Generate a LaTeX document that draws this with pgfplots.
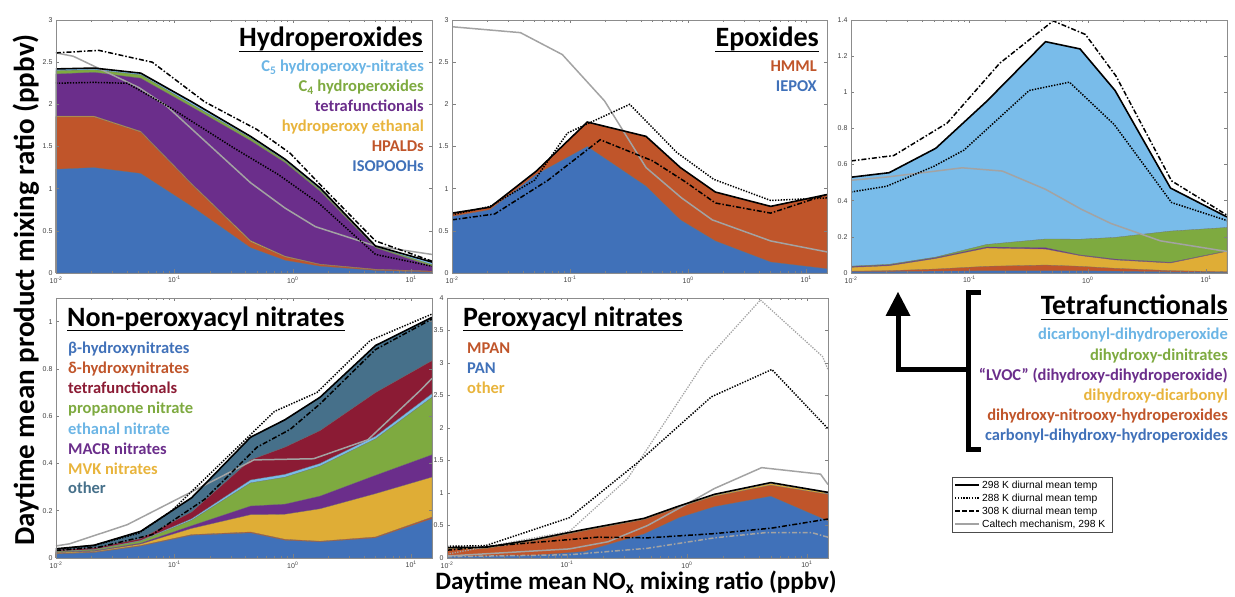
\documentclass[border=0pt]{standalone}
\usepackage{fontspec}
\setmainfont{Carlito}
\newfontfamily\helv{Liberation Sans}
\usepackage{pgfplots}
\pgfplotsset{compat=1.18}
\definecolor{cBlue}{HTML}{4071B9}
\definecolor{cOrange}{HTML}{C0552A}
\definecolor{cYellow}{HTML}{DFAD36}
\definecolor{cPurple}{HTML}{6B2E8B}
\definecolor{cGreen}{HTML}{7EAA40}
\definecolor{cLBlue}{HTML}{79BCEA}
\definecolor{cRed}{HTML}{8B1B34}
\definecolor{cSlate}{HTML}{46708A}
\definecolor{cGray}{HTML}{A3A3A3}
\definecolor{tYellow}{HTML}{E8B43C}
\definecolor{tLBlue}{HTML}{6CB5E5}
\pgfplotsset{
  every axis/.append style={
    scale only axis, anchor=south west,
    xmin=0.01, xmax=15, ymin=0,
    xtick={0.01,0.1,1,10},
    xticklabels={10\textsuperscript{-2},10\textsuperscript{-1},10\textsuperscript{0},10\textsuperscript{1}},
    minor xtick={0.02,0.03,0.04,0.05,0.06,0.07,0.08,0.09,0.2,0.3,0.4,0.5,0.6,0.7,0.8,0.9,2,3,4,5,6,7,8,9},
    axis line style={black!45, line width=0.6pt},
    major tick length=3.5pt, minor tick length=2pt,
    tick align=inside,
    tick label style={font=\helv\fontsize{7}{8}\selectfont, text=black!75},
    yticklabel style={/pgf/number format/assume math mode=true},
    axis on top,
  },
  every tick/.append style={black!50, line width=0.5pt},
}
\tikzset{
  stk/.style={fill=#1, draw=black!55, line width=0.3pt},
  kA/.style={black, line width=1.6pt},
  kB/.style={black, line width=1.5pt, dash pattern=on 1.4pt off 1.4pt},
  kC/.style={black, line width=1.5pt, dash pattern=on 5pt off 2pt on 1.5pt off 2pt},
  calt/.style={cGray, line width=1.5pt},
}
\newcommand{\ttl}[1]{\fontsize{28}{32}\selectfont\bfseries #1}
\newcommand{\lgd}[1]{\fontsize{16.5}{19}\selectfont\bfseries #1}
\begin{document}
\begin{tikzpicture}
\path[use as bounding box] (0pt,0pt) rectangle (1235pt,597pt);

% ---------------- Panel 1: Hydroperoxides
\begin{semilogxaxis}[at={(56pt,324pt)}, width=376pt, height=253pt, ymax=3, ytick={0,0.5,1,1.5,2,2.5,3}]
\addplot[stk=cLBlue] coordinates {(0.01,2.42) (0.021,2.43) (0.052,2.37) (0.14,2.03) (0.44,1.62) (0.86,1.35) (1.7,1.01) (5,0.32) (15,0.13)} \closedcycle;
\addplot[stk=cGreen] coordinates {(0.01,2.40) (0.021,2.41) (0.052,2.35) (0.14,2.00) (0.44,1.60) (0.86,1.33) (1.7,0.99) (5,0.31) (15,0.10)} \closedcycle;
\addplot[stk=cPurple] coordinates {(0.01,2.36) (0.021,2.38) (0.052,2.31) (0.14,1.97) (0.44,1.57) (0.86,1.31) (1.7,0.97) (5,0.30) (15,0.08)} \closedcycle;
\addplot[stk=cYellow] coordinates {(0.01,1.86) (0.021,1.86) (0.052,1.68) (0.14,1.06) (0.44,0.385) (0.86,0.20) (1.7,0.105) (5,0.045) (15,0.022)} \closedcycle;
\addplot[stk=cOrange] coordinates {(0.01,1.85) (0.021,1.85) (0.052,1.67) (0.14,1.05) (0.44,0.37) (0.86,0.19) (1.7,0.10) (5,0.04) (15,0.02)} \closedcycle;
\addplot[stk=cBlue] coordinates {(0.01,1.23) (0.021,1.25) (0.052,1.18) (0.14,0.79) (0.44,0.30) (0.86,0.15) (1.7,0.08) (5,0.03) (15,0.01)} \closedcycle;
\addplot[calt] coordinates {(0.01,2.61) (0.014,2.57) (0.05,2.20) (0.086,1.98) (0.44,1.07) (0.86,0.77) (1.55,0.55) (5,0.32) (15,0.22)};
\addplot[kB] coordinates {(0.01,2.25) (0.021,2.26) (0.04,2.25) (0.095,1.95) (0.32,1.48) (0.75,1.17) (1.65,0.83) (5,0.22) (15,0.08)};
\addplot[kC] coordinates {(0.01,2.61) (0.023,2.64) (0.065,2.50) (0.18,2.03) (0.5,1.70) (0.95,1.42) (1.7,1.05) (5,0.38) (15,0.14)};
\addplot[kA] coordinates {(0.01,2.42) (0.021,2.43) (0.052,2.37) (0.14,2.03) (0.44,1.62) (0.86,1.35) (1.7,1.01) (5,0.32) (15,0.13)};
\end{semilogxaxis}

% ---------------- Panel 2: Epoxides
\begin{semilogxaxis}[at={(452pt,324pt)}, width=375pt, height=253pt, ymax=3, ytick={0,0.5,1,1.5,2,2.5,3}]
\addplot[stk=cOrange] coordinates {(0.01,0.71) (0.021,0.78) (0.052,1.21) (0.14,1.79) (0.44,1.62) (0.86,1.25) (1.7,0.96) (5,0.79) (15,0.93)} \closedcycle;
\addplot[stk=cBlue] coordinates {(0.01,0.67) (0.021,0.75) (0.052,1.17) (0.14,1.50) (0.44,1.03) (0.86,0.63) (1.7,0.38) (5,0.13) (15,0.05)} \closedcycle;
\addplot[calt] coordinates {(0.01,2.92) (0.038,2.85) (0.086,2.59) (0.196,2.04) (0.44,1.25) (0.88,0.89) (1.6,0.63) (5,0.38) (15,0.25)};
\addplot[kB] coordinates {(0.01,0.69) (0.021,0.79) (0.05,1.10) (0.095,1.66) (0.32,2.0) (0.8,1.43) (1.65,1.11) (5,0.86) (15,0.89)};
\addplot[kC] coordinates {(0.01,0.63) (0.023,0.70) (0.065,1.10) (0.18,1.58) (0.5,1.33) (0.95,1.08) (1.7,0.83) (5,0.71) (15,0.93)};
\addplot[kA] coordinates {(0.01,0.71) (0.021,0.78) (0.052,1.21) (0.14,1.79) (0.44,1.62) (0.86,1.25) (1.7,0.96) (5,0.79) (15,0.93)};
\end{semilogxaxis}

% ---------------- Panel 3: Tetrafunctionals
\begin{semilogxaxis}[at={(851pt,324pt)}, width=376pt, height=253pt, ymax=1.4, ytick={0,0.2,0.4,0.6,0.8,1,1.2,1.4}]
\addplot[stk=cLBlue] coordinates {(0.01,0.53) (0.021,0.555) (0.052,0.69) (0.14,0.95) (0.44,1.28) (0.86,1.24) (1.7,1.01) (5,0.47) (15,0.31)} \closedcycle;
\addplot[stk=cGreen] coordinates {(0.01,0.038) (0.021,0.048) (0.052,0.088) (0.14,0.158) (0.44,0.188) (0.86,0.187) (1.7,0.197) (5,0.232) (15,0.252)} \closedcycle;
\addplot[stk=cPurple] coordinates {(0.01,0.036) (0.021,0.045) (0.052,0.085) (0.14,0.144) (0.44,0.140) (0.86,0.100) (1.7,0.077) (5,0.059) (15,0.122)} \closedcycle;
\addplot[stk=cYellow] coordinates {(0.01,0.031) (0.021,0.040) (0.052,0.080) (0.14,0.138) (0.44,0.132) (0.86,0.096) (1.7,0.072) (5,0.055) (15,0.120)} \closedcycle;
\addplot[stk=cOrange] coordinates {(0.01,0.010) (0.021,0.013) (0.052,0.022) (0.14,0.037) (0.44,0.044) (0.86,0.037) (1.7,0.026) (5,0.013) (15,0.007)} \closedcycle;
\addplot[stk=cBlue] coordinates {(0.01,0.008) (0.021,0.008) (0.052,0.010) (0.14,0.012) (0.44,0.012) (0.86,0.012) (1.7,0.010) (5,0.006) (15,0.004)} \closedcycle;
\addplot[calt] coordinates {(0.01,0.513) (0.02,0.531) (0.052,0.564) (0.087,0.582) (0.19,0.564) (0.44,0.463) (0.88,0.353) (1.57,0.274) (4.1,0.178) (15,0.119)};
\addplot[kB] coordinates {(0.01,0.448) (0.02,0.48) (0.05,0.59) (0.09,0.68) (0.32,1.01) (0.70,1.056) (1.68,0.82) (5.1,0.39) (15,0.29)};
\addplot[kC] coordinates {(0.01,0.62) (0.023,0.65) (0.065,0.83) (0.18,1.16) (0.51,1.395) (0.955,1.32) (1.73,1.09) (5.1,0.51) (15,0.32)};
\addplot[kA] coordinates {(0.01,0.53) (0.021,0.555) (0.052,0.69) (0.14,0.95) (0.44,1.28) (0.86,1.24) (1.7,1.01) (5,0.47) (15,0.31)};
\end{semilogxaxis}

% ---------------- Panel 4: Non-peroxyacyl nitrates
\begin{semilogxaxis}[at={(56pt,39pt)}, width=376pt, height=260pt, ymax=1.1, ytick={0,0.2,0.4,0.6,0.8,1}]
\addplot[stk=cSlate] coordinates {(0.01,0.039) (0.021,0.054) (0.052,0.113) (0.14,0.255) (0.44,0.511) (0.86,0.585) (1.7,0.680) (5,0.899) (15,1.018)} \closedcycle;
\addplot[stk=cRed] coordinates {(0.01,0.034) (0.021,0.042) (0.052,0.082) (0.14,0.195) (0.44,0.415) (0.86,0.469) (1.7,0.539) (5,0.700) (15,0.835)} \closedcycle;
\addplot[stk=cLBlue] coordinates {(0.01,0.029) (0.021,0.036) (0.052,0.074) (0.14,0.166) (0.44,0.330) (0.86,0.354) (1.7,0.400) (5,0.515) (15,0.695)} \closedcycle;
\addplot[stk=cGreen] coordinates {(0.01,0.028) (0.021,0.035) (0.052,0.072) (0.14,0.160) (0.44,0.318) (0.86,0.342) (1.7,0.389) (5,0.504) (15,0.680)} \closedcycle;
\addplot[stk=cPurple] coordinates {(0.01,0.025) (0.021,0.031) (0.052,0.063) (0.14,0.137) (0.44,0.220) (0.86,0.228) (1.7,0.262) (5,0.350) (15,0.437)} \closedcycle;
\addplot[stk=cYellow] coordinates {(0.01,0.023) (0.021,0.028) (0.052,0.059) (0.14,0.125) (0.44,0.183) (0.86,0.185) (1.7,0.208) (5,0.272) (15,0.342)} \closedcycle;
\addplot[stk=cOrange] coordinates {(0.01,0.019) (0.021,0.025) (0.052,0.053) (0.14,0.099) (0.44,0.110) (0.86,0.079) (1.7,0.071) (5,0.089) (15,0.173)} \closedcycle;
\addplot[stk=cBlue] coordinates {(0.01,0.017) (0.021,0.023) (0.052,0.050) (0.14,0.096) (0.44,0.106) (0.86,0.075) (1.7,0.068) (5,0.085) (15,0.166)} \closedcycle;
\addplot[calt] coordinates {(0.01,0.051) (0.013,0.06) (0.04,0.141) (0.47,0.415) (1.5,0.42) (4.3,0.50) (12,0.71) (15,0.76)};
\addplot[kB] coordinates {(0.01,0.037) (0.021,0.053) (0.05,0.105) (0.095,0.20) (0.32,0.455) (0.7,0.62) (1.6,0.70) (4.5,0.92) (15,1.032)};
\addplot[kC] coordinates {(0.01,0.032) (0.023,0.046) (0.065,0.099) (0.18,0.248) (0.5,0.469) (0.95,0.544) (1.7,0.652) (5,0.882) (15,1.011)};
\addplot[kA] coordinates {(0.01,0.039) (0.021,0.054) (0.052,0.113) (0.14,0.255) (0.44,0.511) (0.86,0.585) (1.7,0.680) (5,0.899) (15,1.018)};
\end{semilogxaxis}

% ---------------- Panel 5: Peroxyacyl nitrates
\begin{semilogxaxis}[at={(447pt,39pt)}, width=381pt, height=260pt, ymax=4, ytick={0,0.5,1,1.5,2,2.5,3,3.5,4}]
\addplot[stk=cYellow] coordinates {(0.01,0.15) (0.021,0.155) (0.052,0.27) (0.14,0.43) (0.44,0.60) (0.86,0.79) (1.7,0.965) (5,1.145) (15,1.0)} \closedcycle;
\addplot[stk=cOrange] coordinates {(0.01,0.14) (0.021,0.145) (0.052,0.26) (0.14,0.42) (0.44,0.59) (0.86,0.78) (1.7,0.95) (5,1.12) (15,0.98)} \closedcycle;
\addplot[stk=cBlue] coordinates {(0.01,0.03) (0.021,0.03) (0.052,0.04) (0.14,0.10) (0.44,0.37) (0.86,0.62) (1.7,0.79) (5,0.95) (15,0.57)} \closedcycle;
\addplot[cGray, line width=1.3pt, dash pattern=on 1.3pt off 1.3pt] coordinates {(0.01,0.06) (0.105,0.41) (0.32,1.22) (1.42,3.03) (4.1,3.97) (13.5,3.1) (15,2.9)};
\addplot[cGray, line width=1.5pt, dash pattern=on 5pt off 2pt on 1.5pt off 2pt] coordinates {(0.01,0.02) (0.105,0.05) (0.47,0.15) (1.7,0.31) (4.5,0.39) (11,0.39) (15,0.32)};
\addplot[calt] coordinates {(0.01,0.03) (0.105,0.14) (0.22,0.25) (0.47,0.50) (1.02,0.84) (1.7,1.07) (4.2,1.39) (13,1.29) (15,1.13)};
\addplot[kB] coordinates {(0.01,0.18) (0.021,0.19) (0.105,0.62) (0.39,1.47) (1.6,2.48) (5.1,2.9) (15,1.99)};
\addplot[kC] coordinates {(0.01,0.12) (0.03,0.2) (0.18,0.32) (0.47,0.31) (1.7,0.375) (5.1,0.46) (15,0.6)};
\addplot[kA] coordinates {(0.01,0.16) (0.021,0.165) (0.052,0.28) (0.14,0.44) (0.44,0.61) (0.86,0.80) (1.7,0.98) (5,1.16) (15,1.01)};
\end{semilogxaxis}

% ---------------- Titles and labels
\node[anchor=base east, inner sep=0] (t1) at (423pt,550pt) {\ttl{Hydroperoxides}};
\draw[line width=1.8pt] ([yshift=-4.5pt]t1.base west) -- ([yshift=-4.5pt]t1.base east);
\node[anchor=base east, inner sep=0, text=tLBlue] at (424pt,525pt) {\lgd{C\textsubscript{5} hydroperoxy-nitrates}};
\node[anchor=base east, inner sep=0, text=cGreen] at (424pt,505pt) {\lgd{C\textsubscript{4} hydroperoxides}};
\node[anchor=base east, inner sep=0, text=cPurple] at (424pt,485pt) {\lgd{tetrafunctionals}};
\node[anchor=base east, inner sep=0, text=tYellow] at (424pt,465pt) {\lgd{hydroperoxy ethanal}};
\node[anchor=base east, inner sep=0, text=cOrange] at (424pt,445pt) {\lgd{HPALDs}};
\node[anchor=base east, inner sep=0, text=cBlue] at (424pt,425pt) {\lgd{ISOPOOHs}};

\node[anchor=base east, inner sep=0] (t2) at (819pt,550pt) {\ttl{Epoxides}};
\draw[line width=1.8pt] ([yshift=-4.5pt]t2.base west) -- ([yshift=-4.5pt]t2.base east);
\node[anchor=base east, inner sep=0, text=cOrange] at (817pt,525pt) {\lgd{HMML}};
\node[anchor=base east, inner sep=0, text=cBlue] at (817pt,505pt) {\lgd{IEPOX}};

\node[anchor=base west, inner sep=0] (t4) at (67pt,270pt) {\ttl{Non-peroxyacyl nitrates}};
\draw[line width=1.8pt] ([yshift=-3.5pt]t4.base west) -- ([yshift=-3.5pt]t4.base east);
\node[anchor=base west, inner sep=0, text=cBlue] at (68pt,243pt) {\lgd{β-hydroxynitrates}};
\node[anchor=base west, inner sep=0, text=cOrange] at (68pt,223pt) {\lgd{δ-hydroxynitrates}};
\node[anchor=base west, inner sep=0, text=cRed] at (68pt,203pt) {\lgd{tetrafunctionals}};
\node[anchor=base west, inner sep=0, text=cGreen] at (68pt,183pt) {\lgd{propanone nitrate}};
\node[anchor=base west, inner sep=0, text=tLBlue] at (68pt,162pt) {\lgd{ethanal nitrate}};
\node[anchor=base west, inner sep=0, text=cPurple] at (68pt,142pt) {\lgd{MACR nitrates}};
\node[anchor=base west, inner sep=0, text=tYellow] at (68pt,122pt) {\lgd{MVK nitrates}};
\node[anchor=base west, inner sep=0, text=cSlate] at (68pt,103pt) {\lgd{other}};

\node[anchor=base west, inner sep=0] (t5) at (463pt,270pt) {\ttl{Peroxyacyl nitrates}};
\draw[line width=1.8pt] ([yshift=-3.5pt]t5.base west) -- ([yshift=-3.5pt]t5.base east);
\node[anchor=base west, inner sep=0, text=cOrange] at (467pt,243pt) {\lgd{MPAN}};
\node[anchor=base west, inner sep=0, text=cBlue] at (467pt,223pt) {\lgd{PAN}};
\node[anchor=base west, inner sep=0, text=tYellow] at (467pt,203pt) {\lgd{other}};

\node[anchor=base east, inner sep=0] (t6) at (1228pt,282pt) {\ttl{Tetrafunctionals}};
\draw[line width=1.8pt] ([yshift=-4.5pt]t6.base west) -- ([yshift=-4.5pt]t6.base east);
\node[anchor=base east, inner sep=0, text=tLBlue] at (1228pt,257pt) {\lgd{dicarbonyl-dihydroperoxide}};
\node[anchor=base east, inner sep=0, text=cGreen] at (1228pt,236pt) {\lgd{dihydroxy-dinitrates}};
\node[anchor=base east, inner sep=0, text=cPurple] at (1228pt,216pt) {\lgd{“LVOC” (dihydroxy-dihydroperoxide)}};
\node[anchor=base east, inner sep=0, text=tYellow] at (1228pt,196pt) {\lgd{dihydroxy-dicarbonyl}};
\node[anchor=base east, inner sep=0, text=cOrange] at (1228pt,176pt) {\lgd{dihydroxy-nitrooxy-hydroperoxides}};
\node[anchor=base east, inner sep=0, text=cBlue] at (1228pt,156pt) {\lgd{carbonyl-dihydroxy-hydroperoxides}};

% bracket and arrow
\draw[line width=5pt, line cap=butt, line join=miter] (981pt,304pt) -- (968.5pt,304pt) -- (968.5pt,147pt) -- (981pt,147pt);
\draw[line width=5pt, line join=miter] (968.5pt,227pt) -- (898pt,227pt) -- (898pt,282pt);
\fill (885.5pt,281pt) -- (910.5pt,281pt) -- (898pt,305pt) -- cycle;

% legend box
\draw[black!70, line width=0.6pt, fill=white] (952pt,120pt) rectangle (1112pt,65pt);
\draw[black, line width=1.6pt] (955pt,112pt) -- (979pt,112pt);
\draw[black, line width=1.5pt, dash pattern=on 1.4pt off 1.4pt] (955pt,99pt) -- (979pt,99pt);
\draw[black, line width=1.5pt, dash pattern=on 5pt off 2pt] (955pt,86pt) -- (979pt,86pt);
\draw[cGray, line width=1.5pt] (955pt,73pt) -- (979pt,73pt);
\begin{scope}[every node/.style={anchor=base west, inner sep=0, font=\helv\fontsize{10.3}{12}\selectfont}]
\node at (982pt,108.5pt) {298 K diurnal mean temp};
\node at (982pt,95.5pt) {288 K diurnal mean temp};
\node at (982pt,82.5pt) {308 K diurnal mean temp};
\node at (982pt,69.5pt) {Caltech mechanism, 298 K};
\end{scope}

% axis labels
\node[rotate=90, anchor=base, inner sep=0] at (34pt,307pt) {\fontsize{29}{33}\selectfont\bfseries Daytime mean product mixing ratio (ppbv)};
\node[anchor=base, inner sep=0] at (636pt,7pt) {\fontsize{25}{29}\selectfont\bfseries Daytime mean NO\textsubscript{x} mixing ratio (ppbv)};
\end{tikzpicture}
\end{document}
